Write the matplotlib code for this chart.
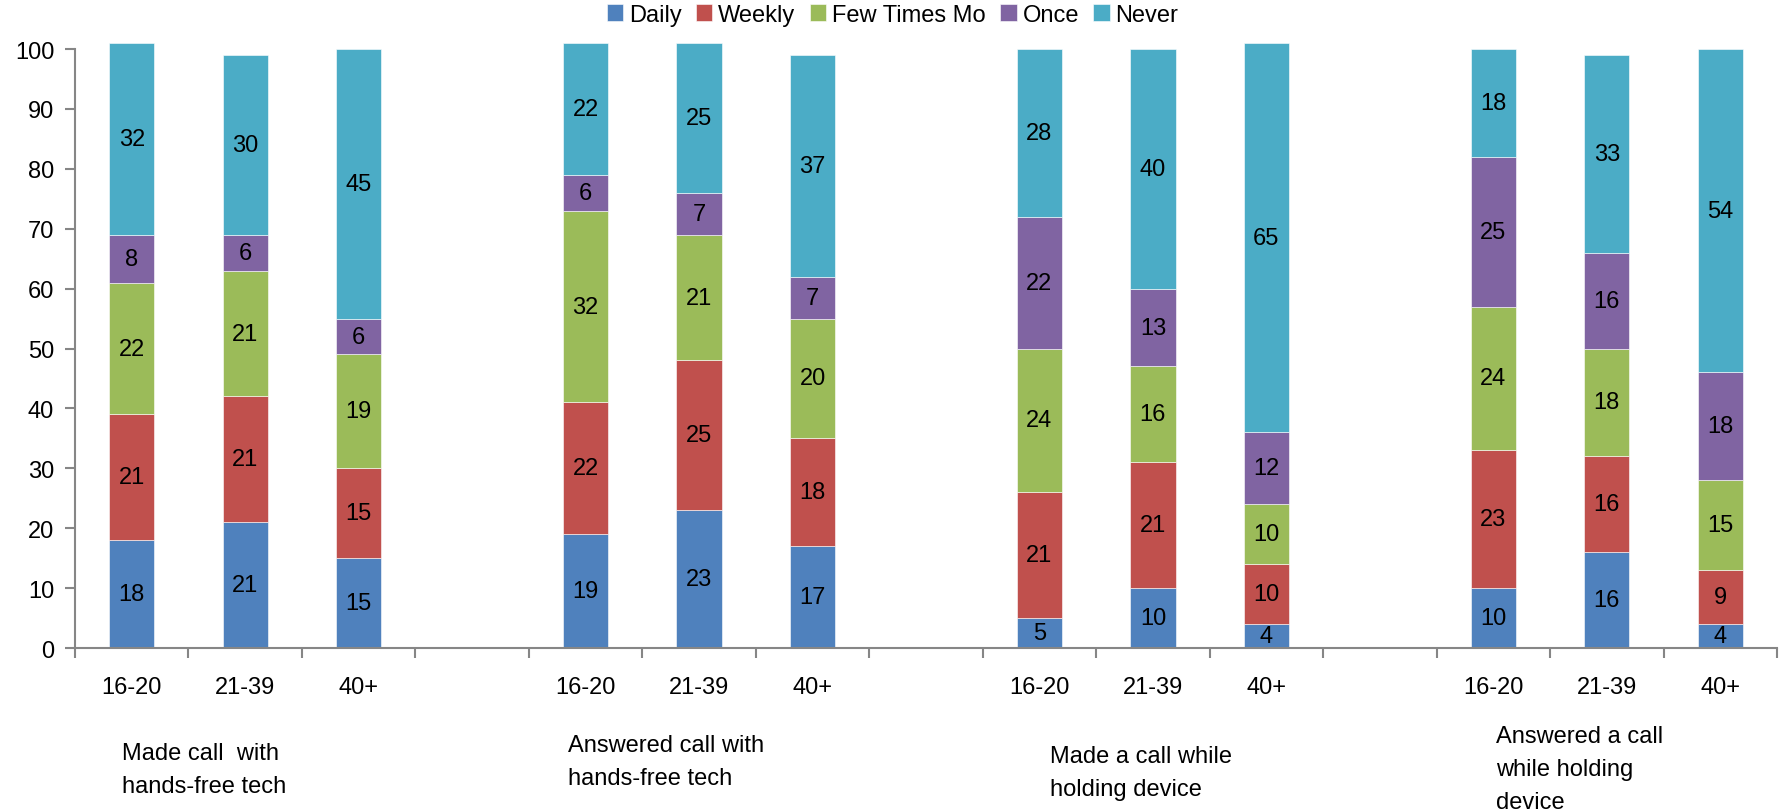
import numpy as np
import matplotlib
matplotlib.use("Agg")
from matplotlib import pyplot as plt
from matplotlib.ticker import FixedLocator, NullFormatter

plt.rcParams['font.family'] = ['Liberation Sans Narrow', 'Liberation Sans', 'DejaVu Sans']

# data
ages = ['16-20', '21-39', '40+']
groups = ['Made call  with\nhands-free tech',
          'Answered call with\nhands-free tech',
          'Made a call while\nholding device',
          'Answered a call\nwhile holding\ndevice']
series = ['Daily', 'Weekly', 'Few Times Mo', 'Once', 'Never']
daily = [18, 21, 15, 19, 23, 17, 5, 10, 4, 10, 16, 4]
weekly = [21, 21, 15, 22, 25, 18, 21, 21, 10, 23, 16, 9]
few_times = [22, 21, 19, 32, 21, 20, 24, 16, 10, 24, 18, 15]
once = [8, 6, 6, 6, 7, 7, 22, 13, 12, 25, 16, 18]
never = [32, 30, 45, 22, 25, 37, 28, 40, 65, 18, 33, 54]

colors = ['#4F81BD', '#C0504D', '#9BBB59', '#8064A2', '#4BACC6']
axis_gray = '#868686'
fs = 17

# bar slots: 3 bars per group, one empty slot between groups
slots = [g * 4 + i for g in range(4) for i in range(3)]
xpos = np.array(slots) + 0.5

fig = plt.figure(figsize=(17.85, 8.12), dpi=100)
ax = fig.add_axes([75 / 1785, 1 - 649 / 812, (1777 - 75) / 1785, (649 - 50) / 812])

bottom = np.zeros(len(xpos))
handles = []
for vals, name, c in zip([daily, weekly, few_times, once, never], series, colors):
    vals = np.array(vals, dtype=float)
    bars = ax.bar(xpos, vals, width=0.4, bottom=bottom, color=c, label=name,
                  edgecolor='white', linewidth=0.4, clip_on=False)
    for x, b, v in zip(xpos, bottom, vals):
        ax.text(x, b + v / 2, str(int(v)), ha='center', va='center',
                fontsize=fs, color='black')
    bottom += vals
    handles.append(bars)

ax.set_xlim(0, 15)
ax.set_ylim(0, 100)
ax.set_yticks(np.arange(0, 101, 10))
ax.tick_params(axis='y', labelsize=fs, length=7, width=1.5, color=axis_gray, pad=8)

ax.xaxis.set_major_locator(FixedLocator(np.arange(0, 16)))
ax.xaxis.set_major_formatter(NullFormatter())
ax.xaxis.set_minor_locator(FixedLocator(xpos))
ax.set_xticklabels(ages * 4, minor=True)
ax.tick_params(axis='x', which='major', length=7, width=1.5, color=axis_gray)
ax.tick_params(axis='x', which='minor', length=0, labelsize=fs, pad=20)

for side in ['top', 'right']:
    ax.spines[side].set_visible(False)
for side in ['left', 'bottom']:
    ax.spines[side].set_color(axis_gray)
    ax.spines[side].set_linewidth(1.5)

# group captions under the axis
label_pos = [(122, 751), (568, 743), (1050, 754), (1496, 734)]
for text, (px, py) in zip(groups, label_pos):
    fig.text(px / 1785, 1 - (py - 8) / 812, text, ha='left', va='top',
             fontsize=fs, linespacing=1.65)

fig.legend(handles=handles, loc='center', bbox_to_anchor=(0.5, 1 - 16 / 812),
           ncol=5, frameon=False, fontsize=fs, handlelength=0.7, handleheight=0.7,
           handletextpad=0.25, columnspacing=0.6, borderaxespad=0)

fig.savefig('out.png', dpi=100)
